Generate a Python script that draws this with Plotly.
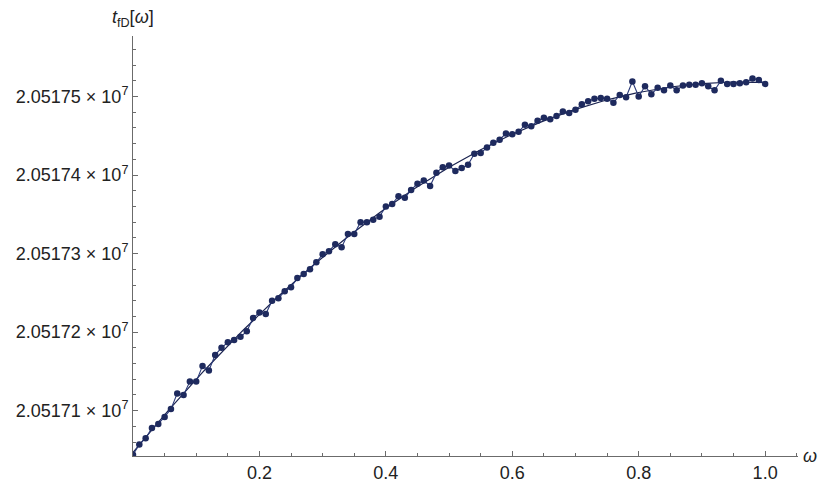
import numpy as np
import plotly.graph_objects as go

# omega values (x)
omega = [0.00, 0.01, 0.02, 0.03, 0.04, 0.05, 0.06, 0.07, 0.08, 0.09,
         0.10, 0.11, 0.12, 0.13, 0.14, 0.15, 0.16, 0.17, 0.18, 0.19,
         0.20, 0.21, 0.22, 0.23, 0.24, 0.25, 0.26, 0.27, 0.28, 0.29,
         0.30, 0.31, 0.32, 0.33, 0.34, 0.35, 0.36, 0.37, 0.38, 0.39,
         0.40, 0.41, 0.42, 0.43, 0.44, 0.45, 0.46, 0.47, 0.48, 0.49,
         0.50, 0.51, 0.52, 0.53, 0.54, 0.55, 0.56, 0.57, 0.58, 0.59,
         0.60, 0.61, 0.62, 0.63, 0.64, 0.65, 0.66, 0.67, 0.68, 0.69,
         0.70, 0.71, 0.72, 0.73, 0.74, 0.75, 0.76, 0.77, 0.78, 0.79,
         0.80, 0.81, 0.82, 0.83, 0.84, 0.85, 0.86, 0.87, 0.88, 0.89,
         0.90, 0.91, 0.92, 0.93, 0.94, 0.95, 0.96, 0.97, 0.98, 0.99,
         1.00]

# t_fD[omega] values
t_fD = [20517044, 20517057, 20517065, 20517078, 20517083, 20517092, 20517102, 20517122, 20517120, 20517137,
        20517137, 20517157, 20517151, 20517171, 20517180, 20517187, 20517190, 20517194, 20517201, 20517218,
        20517225, 20517223, 20517240, 20517243, 20517252, 20517257, 20517269, 20517274, 20517280, 20517289,
        20517299, 20517303, 20517312, 20517308, 20517325, 20517325, 20517340, 20517340, 20517343, 20517347,
        20517360, 20517363, 20517373, 20517371, 20517381, 20517389, 20517393, 20517386, 20517403, 20517410,
        20517412, 20517405, 20517409, 20517413, 20517427, 20517428, 20517435, 20517441, 20517445, 20517453,
        20517452, 20517455, 20517464, 20517462, 20517469, 20517473, 20517471, 20517475, 20517481, 20517479,
        20517483, 20517490, 20517494, 20517497, 20517498, 20517497, 20517492, 20517502, 20517499, 20517519,
        20517500, 20517513, 20517503, 20517511, 20517508, 20517514, 20517508, 20517514, 20517515, 20517515,
        20517517, 20517513, 20517508, 20517520, 20517516, 20517516, 20517517, 20517518, 20517523, 20517521,
        20517516]

y_tickvals = [20517100, 20517200, 20517300, 20517400, 20517500]
y_ticktext = ["2.05171 \u00d7 10<sup>7</sup>", "2.05172 \u00d7 10<sup>7</sup>",
              "2.05173 \u00d7 10<sup>7</sup>", "2.05174 \u00d7 10<sup>7</sup>",
              "2.05175 \u00d7 10<sup>7</sup>"]
x_tickvals = [0.2, 0.4, 0.6, 0.8, 1.0]
x_ticktext = ["0.2", "0.4", "0.6", "0.8", "1.0"]

# quadratic least-squares fit of the data (the smooth curve in the plot)
base = 20517000
xa = np.array(omega)
ya = np.array(t_fD, dtype=float) - base
coef = np.polyfit(xa, ya, 2)
xf = np.linspace(0, 1, 201)
yf = np.polyval(coef, xf) + base

fig = go.Figure()
fig.add_trace(go.Scatter(x=xf, y=yf, mode="lines",
                         line=dict(color="#1a2350", width=1.2),
                         hoverinfo="skip", showlegend=False))
fig.add_trace(go.Scatter(x=omega, y=t_fD, mode="lines+markers",
                         line=dict(color="#2c3b7a", width=1.1),
                         marker=dict(color="#1e2a5e", size=6.5),
                         showlegend=False))

font_family = "Liberation Sans, Arial, sans-serif"
y_lo, y_hi = 20517042.3, 20517577.0
fs = 18

fig.update_layout(
    width=819, height=485,
    margin=dict(l=133, r=21, t=36, b=29, autoexpand=False),
    paper_bgcolor="white", plot_bgcolor="white",
    font=dict(family=font_family, size=fs, color="#222222"),
    xaxis=dict(range=[0, 1.052], showgrid=False, zeroline=False, automargin=False,
               showline=True, linecolor="#6b6b6b", linewidth=1,
               ticks="inside", ticklen=5, tickcolor="#6b6b6b",
               tickmode="array", tickvals=x_tickvals, ticktext=x_ticktext,
               minor=dict(tickmode="linear", tick0=0, dtick=0.05,
                          ticks="inside", ticklen=3, tickcolor="#6b6b6b")),
    yaxis=dict(range=[y_lo, y_hi], showgrid=False, zeroline=False, automargin=False,
               showline=True, linecolor="#6b6b6b", linewidth=1,
               ticks="inside", ticklen=5, tickcolor="#6b6b6b",
               tickmode="array", tickvals=y_tickvals, ticktext=y_ticktext,
               minor=dict(tickmode="linear", tick0=20517000, dtick=20,
                          ticks="inside", ticklen=3, tickcolor="#6b6b6b")),
    annotations=[
        dict(text="<i>t</i><sub>fD</sub>[<i>\u03c9</i>]", xref="x", yref="paper",
             x=0, y=1, xanchor="center", yanchor="bottom", yshift=4,
             showarrow=False, font=dict(size=fs, family=font_family, color="#222222")),
        dict(text="<i>\u03c9</i>", xref="paper", yref="y",
             x=1, y=y_lo, xanchor="left", yanchor="middle", xshift=3,
             showarrow=False, font=dict(size=fs, family=font_family, color="#222222")),
    ],
)

fig.write_html("out.html",
               config={"displayModeBar": False},
               post_script="document.body.style.margin='0';document.body.style.overflow='hidden';")
